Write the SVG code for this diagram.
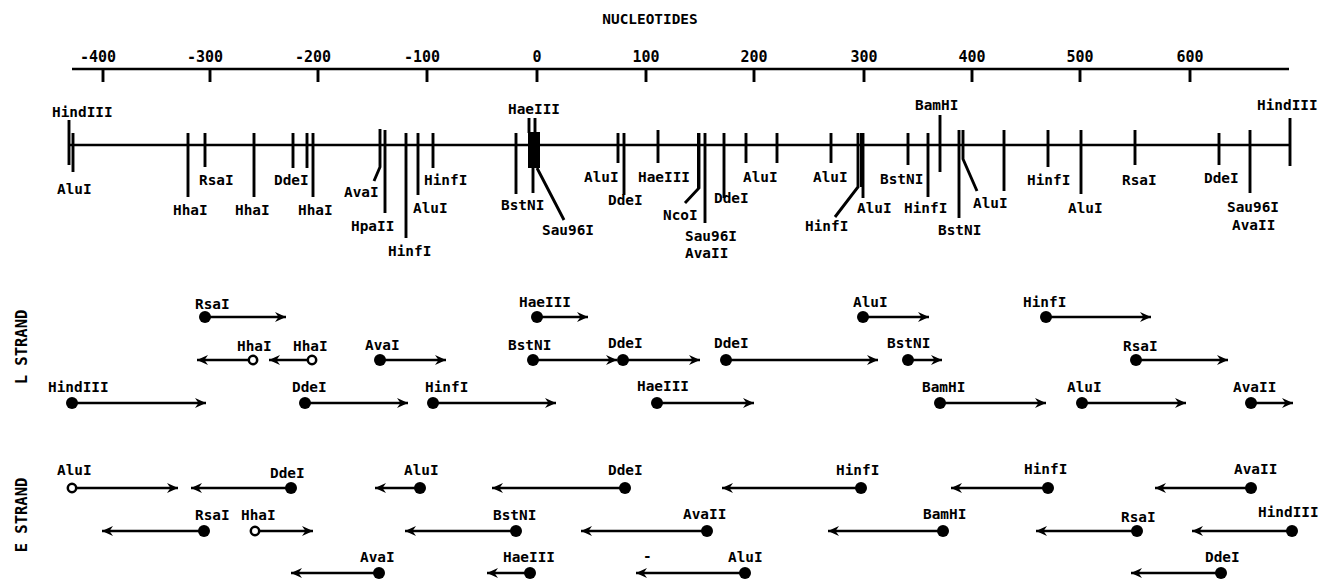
<svg xmlns="http://www.w3.org/2000/svg" width="1320" height="579" viewBox="0 0 1320 579">
<defs>
<marker id="ah" markerUnits="userSpaceOnUse" markerWidth="12" markerHeight="11" refX="11" refY="5.5" orient="auto">
<path d="M0,0.5 L11,5.5 L0,10.5 L3.5,5.5 z" fill="#000"/>
</marker>
</defs>
<style>
text{font-family:"DejaVu Sans Mono","Liberation Mono",monospace;font-weight:bold;font-size:14.4px;fill:#000}
.ax{font-size:15px;text-anchor:middle}
.tk{stroke:#000;stroke-width:2.9;fill:none}
.st{stroke:#000;stroke-width:2.7;fill:none}
.dot{fill:#000}
.open{fill:#fff;stroke:#000;stroke-width:2.5}
.arr{stroke:#000;stroke-width:2.6;fill:none;marker-end:url(#ah)}
</style>
<rect width="1320" height="579" fill="#fff"/>

<g id="axis">
<text x="650" y="24" class="ax" style="font-size:14.4px">NUCLEOTIDES</text>
<line class="st" x1="72" y1="69" x2="1289" y2="69"/>
<path class="tk" d="M103,69V82M210,69V82M318,69V82M427,69V82M537,69V82M646,69V82M754,69V82M864,69V82M972,69V82M1080,69V82M1190,69V82"/>
<text class="ax" x="98" y="62">-400</text>
<text class="ax" x="205" y="62">-300</text>
<text class="ax" x="313" y="62">-200</text>
<text class="ax" x="422" y="62">-100</text>
<text class="ax" x="537" y="62">0</text>
<text class="ax" x="646" y="62">100</text>
<text class="ax" x="754" y="62">200</text>
<text class="ax" x="864" y="62">300</text>
<text class="ax" x="972" y="62">400</text>
<text class="ax" x="1080" y="62">500</text>
<text class="ax" x="1190" y="62">600</text>
</g>

<g id="map">
<line class="st" x1="70" y1="145" x2="1290" y2="145" style="stroke-width:2.4"/>
<path class="tk" d="M69,120V165M73,133V172M188,133V197M205,133V167M254,133V197M293,133V168M307,133V168M313,133V197
M380,129V167L374,181M385,130V213M406,133V238M418,133V195M433,133V168
M529,118V133M535,118V133M516,133V194M533,168V193M537,168L564,220
M618,133V163M624,133V195M658,130V163M699,133V188L685,203M705,133V223M724,133V198M746,133V163M777,133V163M831,133V163
M858,133V187L835,217M863,133V198M908,133V165M928,133V197M940,115V172M959,130V218M963,130V159L977,191M1004,130V191
M1048,130V167M1081,130V194M1135,130V165M1219,133V165M1250,130V193M1290,118V166"/>
<path class="tk" d="M380,130V167M698,133V188M861,133V187" style="stroke-width:2"/>
<rect x="528" y="132" width="12" height="36" fill="#000"/>
</g>

<g id="map-labels">
<text x="52" y="117">HindIII</text>
<text x="57" y="194">AluI</text>
<text x="173" y="215">HhaI</text>
<text x="199" y="185">RsaI</text>
<text x="235" y="215">HhaI</text>
<text x="274" y="185">DdeI</text>
<text x="298" y="215">HhaI</text>
<text x="344" y="197">AvaI</text>
<text x="351" y="231">HpaII</text>
<text x="388" y="256">HinfI</text>
<text x="413" y="213">AluI</text>
<text x="424" y="185">HinfI</text>
<text x="508" y="114">HaeIII</text>
<text x="501" y="210">BstNI</text>
<text x="542" y="235">Sau96I</text>
<text x="584" y="182">AluI</text>
<text x="608" y="205">DdeI</text>
<text x="638" y="182">HaeIII</text>
<text x="663" y="220">NcoI</text>
<text x="685" y="241">Sau96I</text>
<text x="685" y="258">AvaII</text>
<text x="714" y="203">DdeI</text>
<text x="743" y="182">AluI</text>
<text x="813" y="182">AluI</text>
<text x="805" y="231">HinfI</text>
<text x="857" y="213">AluI</text>
<text x="880" y="184">BstNI</text>
<text x="904" y="213">HinfI</text>
<text x="915" y="110">BamHI</text>
<text x="938" y="235">BstNI</text>
<text x="973" y="208">AluI</text>
<text x="1027" y="185">HinfI</text>
<text x="1068" y="213">AluI</text>
<text x="1122" y="185">RsaI</text>
<text x="1204" y="183">DdeI</text>
<text x="1227" y="212">Sau96I</text>
<text x="1232" y="230">AvaII</text>
<text x="1257" y="110">HindIII</text>
</g>

<g id="strand-labels">
<text transform="translate(27,347) rotate(-90)" text-anchor="middle" style="font-size:15.5px">L STRAND</text>
<text transform="translate(27,515) rotate(-90)" text-anchor="middle" style="font-size:15.5px">E STRAND</text>
</g>

<g id="connectors">
<line class="arr" x1="205" y1="317" x2="286" y2="317"/>
<line class="arr" x1="537" y1="317" x2="588" y2="317"/>
<line class="arr" x1="863" y1="317" x2="929" y2="317"/>
<line class="arr" x1="1046" y1="317" x2="1151" y2="317"/>
<line class="arr" x1="249" y1="360" x2="197" y2="360"/>
<line class="arr" x1="308" y1="360" x2="269" y2="360"/>
<line class="arr" x1="380" y1="360" x2="446" y2="360"/>
<line class="arr" x1="533" y1="360" x2="617" y2="360"/>
<line class="arr" x1="623" y1="360" x2="700" y2="360"/>
<line class="arr" x1="726" y1="360" x2="878" y2="360"/>
<line class="arr" x1="908" y1="360" x2="942" y2="360"/>
<line class="arr" x1="1136" y1="360" x2="1228" y2="360"/>
<line class="arr" x1="72" y1="403" x2="206" y2="403"/>
<line class="arr" x1="305" y1="403" x2="408" y2="403"/>
<line class="arr" x1="433" y1="403" x2="556" y2="403"/>
<line class="arr" x1="657" y1="403" x2="754" y2="403"/>
<line class="arr" x1="940" y1="403" x2="1046" y2="403"/>
<line class="arr" x1="1082" y1="403" x2="1186" y2="403"/>
<line class="arr" x1="1251" y1="403" x2="1293" y2="403"/>

<line class="arr" x1="76" y1="488" x2="178" y2="488"/>
<line class="arr" x1="291" y1="488" x2="191" y2="488"/>
<line class="arr" x1="420" y1="488" x2="375" y2="488"/>
<line class="arr" x1="625" y1="488" x2="492" y2="488"/>
<line class="arr" x1="861" y1="488" x2="722" y2="488"/>
<line class="arr" x1="1048" y1="488" x2="951" y2="488"/>
<line class="arr" x1="1251" y1="488" x2="1155" y2="488"/>
<line class="arr" x1="204" y1="531" x2="102" y2="531"/>
<line class="arr" x1="259" y1="531" x2="313" y2="531"/>
<line class="arr" x1="516" y1="531" x2="405" y2="531"/>
<line class="arr" x1="707" y1="531" x2="581" y2="531"/>
<line class="arr" x1="943" y1="531" x2="828" y2="531"/>
<line class="arr" x1="1137" y1="531" x2="1036" y2="531"/>
<line class="arr" x1="1292" y1="531" x2="1192" y2="531"/>
<line class="arr" x1="379" y1="573" x2="291" y2="573"/>
<line class="arr" x1="530" y1="573" x2="487" y2="573"/>
<line class="arr" x1="745" y1="573" x2="636" y2="573"/>
<line class="arr" x1="1221" y1="573" x2="1131" y2="573"/>
</g>

<g id="L-RsaI"><circle class="dot" cx="205" cy="317" r="6"/><text x="195" y="309">RsaI</text></g>
<g id="L-HaeIII-1"><circle class="dot" cx="537" cy="317" r="6"/><text x="519" y="307">HaeIII</text></g>
<g id="L-AluI-1"><circle class="dot" cx="863" cy="317" r="6"/><text x="853" y="307">AluI</text></g>
<g id="L-HinfI-1"><circle class="dot" cx="1046" cy="317" r="6"/><text x="1023" y="307">HinfI</text></g>
<g id="L-HhaI-1"><circle class="open" cx="253" cy="360" r="4.2"/><text x="237" y="351">HhaI</text></g>
<g id="L-HhaI-2"><circle class="open" cx="312" cy="360" r="4.2"/><text x="293" y="351">HhaI</text></g>
<g id="L-AvaI"><circle class="dot" cx="380" cy="360" r="6"/><text x="365" y="350">AvaI</text></g>
<g id="L-BstNI-1"><circle class="dot" cx="533" cy="360" r="6"/><text x="508" y="350">BstNI</text></g>
<g id="L-DdeI-1"><circle class="dot" cx="623" cy="360" r="6"/><text x="608" y="348">DdeI</text></g>
<g id="L-DdeI-2"><circle class="dot" cx="726" cy="360" r="6"/><text x="714" y="348">DdeI</text></g>
<g id="L-BstNI-2"><circle class="dot" cx="908" cy="360" r="6"/><text x="887" y="348">BstNI</text></g>
<g id="L-RsaI-2"><circle class="dot" cx="1136" cy="360" r="6"/><text x="1123" y="351">RsaI</text></g>
<g id="L-HindIII"><circle class="dot" cx="72" cy="403" r="6"/><text x="48" y="392">HindIII</text></g>
<g id="L-DdeI-3"><circle class="dot" cx="305" cy="403" r="6"/><text x="292" y="392">DdeI</text></g>
<g id="L-HinfI-2"><circle class="dot" cx="433" cy="403" r="6"/><text x="425" y="392">HinfI</text></g>
<g id="L-HaeIII-2"><circle class="dot" cx="657" cy="403" r="6"/><text x="637" y="391">HaeIII</text></g>
<g id="L-BamHI"><circle class="dot" cx="940" cy="403" r="6"/><text x="922" y="392">BamHI</text></g>
<g id="L-AluI-2"><circle class="dot" cx="1082" cy="403" r="6"/><text x="1067" y="392">AluI</text></g>
<g id="L-AvaII"><circle class="dot" cx="1251" cy="403" r="6"/><text x="1233" y="392">AvaII</text></g>

<g id="E-AluI-1"><circle class="open" cx="72" cy="488" r="4.2"/><text x="57" y="475">AluI</text></g>
<g id="E-DdeI-1"><circle class="dot" cx="291" cy="488" r="6"/><text x="270" y="478">DdeI</text></g>
<g id="E-AluI-2"><circle class="dot" cx="420" cy="488" r="6"/><text x="404" y="475">AluI</text></g>
<g id="E-DdeI-2"><circle class="dot" cx="625" cy="488" r="6"/><text x="608" y="475">DdeI</text></g>
<g id="E-HinfI-1"><circle class="dot" cx="861" cy="488" r="6"/><text x="836" y="475">HinfI</text></g>
<g id="E-HinfI-2"><circle class="dot" cx="1048" cy="488" r="6"/><text x="1024" y="474">HinfI</text></g>
<g id="E-AvaII-1"><circle class="dot" cx="1251" cy="488" r="6"/><text x="1234" y="474">AvaII</text></g>
<g id="E-RsaI-1"><circle class="dot" cx="204" cy="531" r="6"/><text x="195" y="520">RsaI</text></g>
<g id="E-HhaI"><circle class="open" cx="255" cy="531" r="4.2"/><text x="241" y="520">HhaI</text></g>
<g id="E-BstNI"><circle class="dot" cx="516" cy="531" r="6"/><text x="493" y="520">BstNI</text></g>
<g id="E-AvaII-2"><circle class="dot" cx="707" cy="531" r="6"/><text x="683" y="519">AvaII</text></g>
<g id="E-BamHI"><circle class="dot" cx="943" cy="531" r="6"/><text x="923" y="519">BamHI</text></g>
<g id="E-RsaI-2"><circle class="dot" cx="1137" cy="531" r="6"/><text x="1121" y="522">RsaI</text></g>
<g id="E-HindIII"><circle class="dot" cx="1292" cy="531" r="6"/><text x="1258" y="517">HindIII</text></g>
<g id="E-AvaI"><circle class="dot" cx="379" cy="573" r="6"/><text x="360" y="562">AvaI</text></g>
<g id="E-HaeIII"><circle class="dot" cx="530" cy="573" r="6"/><text x="503" y="562">HaeIII</text></g>
<g id="E-dash"><text x="643" y="561">-</text></g>
<g id="E-AluI-3"><circle class="dot" cx="745" cy="573" r="6"/><text x="728" y="562">AluI</text></g>
<g id="E-DdeI-3"><circle class="dot" cx="1221" cy="573" r="6"/><text x="1205" y="562">DdeI</text></g>
</svg>
